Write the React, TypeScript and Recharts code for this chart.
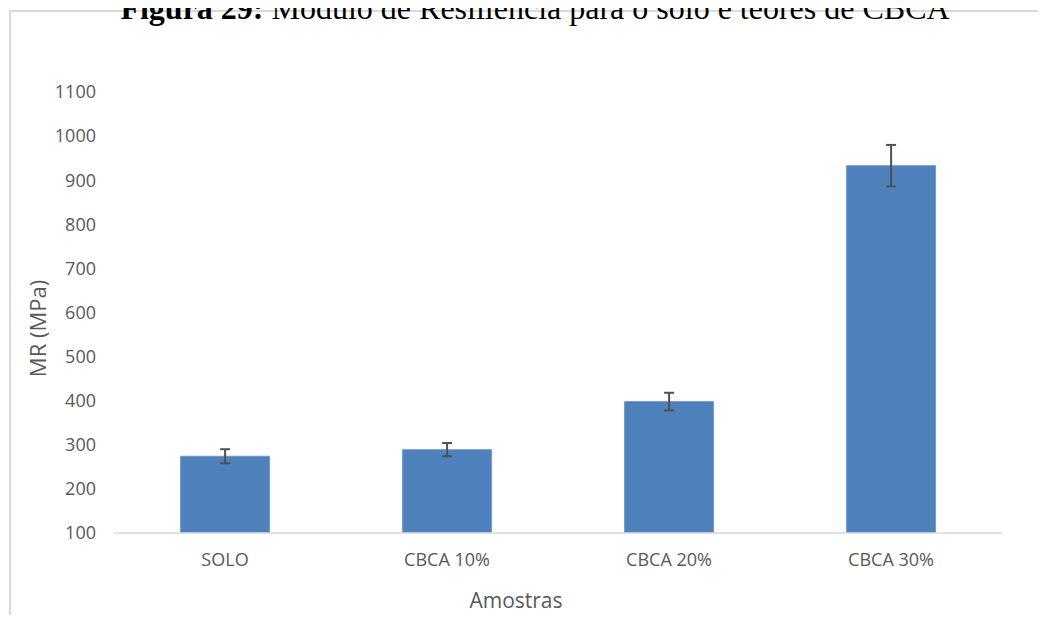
import React from 'react';
import { BarChart, Bar, XAxis, YAxis, ErrorBar } from 'recharts';

const amostras = ['SOLO', 'CBCA 10%', 'CBCA 20%', 'CBCA 30%'];
const mrValues = [274, 289, 398, 933];
const mrErrors = [16, 15, 20, 47];
const yTicks = [100, 200, 300, 400, 500, 600, 700, 800, 900, 1000, 1100];

const data = amostras.map((name, i) => ({ name, mr: mrValues[i], err: mrErrors[i] }));

const font = '"Open Sans", sans-serif';
const tickStyle = { fill: '#595959', fontSize: 18, fontFamily: font };

const YLabel = ({ viewBox }: any) => {
  const cx = viewBox.x + 37;
  const cy = viewBox.y + viewBox.height / 2 + 16;
  return (
    <text x={cx} y={cy} transform={`rotate(-90 ${cx} ${cy})`} textAnchor="middle" dominantBaseline="central"
      fill="#595959" fontSize={22} fontFamily={font}>
      MR (MPa)
    </text>
  );
};

const XLabel = ({ viewBox }: any) => {
  const cx = viewBox.x + viewBox.width / 2 - 42;
  return (
    <text x={cx} y={viewBox.y + 67} textAnchor="middle" dominantBaseline="central"
      fill="#595959" fontSize={21} fontFamily={font}>
      Amostras
    </text>
  );
};

export default function App() {
  return (
    <div style={{ position: 'relative', width: 1046, height: 623, margin: -8, overflow: 'hidden', background: '#fff' }}>
      <div style={{ position: 'absolute', top: 10, left: 9, width: 1100, height: 700, border: '2px solid #d9d9d9' }} />
      <div style={{
        position: 'absolute', top: -8, left: 0, width: 1070, textAlign: 'center', whiteSpace: 'nowrap',
        fontFamily: '"Liberation Serif", "Times New Roman", serif', fontSize: 32, lineHeight: 1, color: '#000',
      }}>
        <b>Figura 29:</b> Módulo de Resiliência para o solo e teores de CBCA
      </div>
      <div style={{ position: 'absolute', top: 0, left: 0 }}>
        <BarChart width={1046} height={623} data={data} barCategoryGap="30%"
          margin={{ top: 92, right: 44, bottom: 30, left: 0 }}>
          <XAxis dataKey="name" height={60} tickLine={false} tickSize={0} tickMargin={20}
            axisLine={{ stroke: '#d9d9d9', strokeWidth: 1.5 }} tick={tickStyle} label={<XLabel />} />
          <YAxis width={114} domain={[100, 1100]} ticks={yTicks} allowDataOverflow axisLine={false}
            tickLine={false} tickSize={0} tickMargin={18} tick={tickStyle} label={<YLabel />} />
          <Bar dataKey="mr" fill="#4f81bd" stroke="#6f9ad0" strokeWidth={1} isAnimationActive={false}>
            <ErrorBar dataKey="err" width={5} stroke="#505050" strokeWidth={2} isAnimationActive={false} />
          </Bar>
        </BarChart>
      </div>
    </div>
  );
}
